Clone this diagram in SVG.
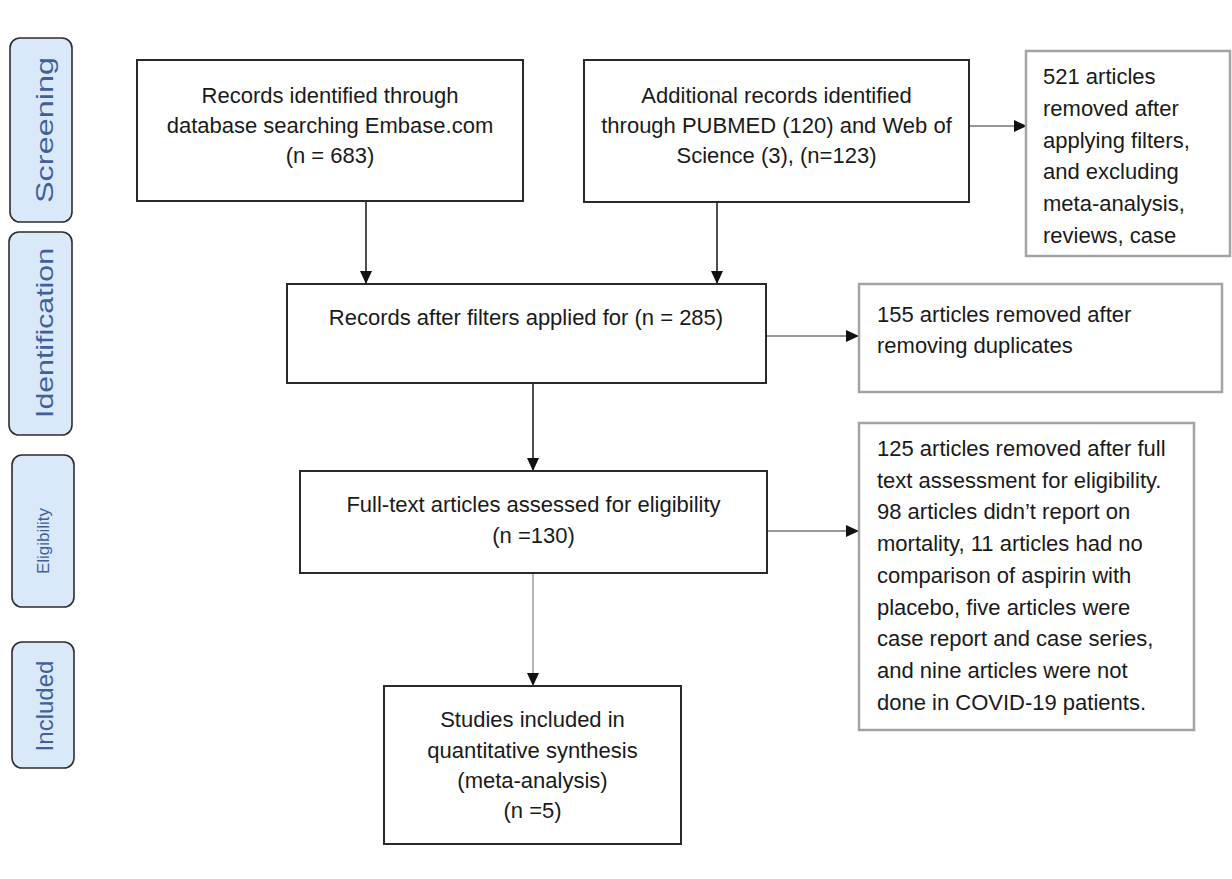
<svg xmlns="http://www.w3.org/2000/svg" width="1232" height="879" viewBox="0 0 1232 879">
<style>
  .txt { font-family: "Liberation Sans", Arial, sans-serif; font-size: 22px; fill: #1a1a1a; }
  .mid { text-anchor: middle; }
  .main { fill: #ffffff; stroke: #2a2a2a; stroke-width: 2; }
  .side { fill: #ffffff; stroke: #a3a3a3; stroke-width: 2.5; }
  .stage { fill: #dae9fa; stroke: #2d2d2d; stroke-width: 1.6; }
  .stxt { font-family: "Liberation Sans", Arial, sans-serif; font-size: 24px; fill: #40609a; text-anchor: middle; }
  .conn { fill: none; stroke: #222; stroke-width: 1.6; }
  .thin { fill: none; stroke: #333; stroke-width: 1.1; }
  .grey { fill: none; stroke: #777; stroke-width: 1.1; }
</style>
<defs>
  <marker id="ah" markerUnits="userSpaceOnUse" markerWidth="13" markerHeight="12" refX="12" refY="6" orient="auto">
    <path d="M0,0 L13,6 L0,12 z" fill="#111"/>
  </marker>
</defs>
<rect width="1232" height="879" fill="#ffffff"/>

<g id="stage-screening">
  <rect class="stage" x="10" y="38" width="62" height="184" rx="10"/>
  <text class="stxt" transform="translate(53,130) rotate(-90)" x="0" y="0" textLength="146" lengthAdjust="spacingAndGlyphs">Screening</text>
</g>
<g id="stage-identification">
  <rect class="stage" x="9" y="232" width="63" height="203" rx="10"/>
  <text class="stxt" transform="translate(53,333) rotate(-90)" x="0" y="0" textLength="170" lengthAdjust="spacingAndGlyphs">Identification</text>
</g>
<g id="stage-eligibility">
  <rect class="stage" x="12" y="455" width="62" height="152" rx="10"/>
  <text class="stxt" style="font-size:17px" transform="translate(49,541) rotate(-90)" x="0" y="0">Eligibility</text>
</g>
<g id="stage-included">
  <rect class="stage" x="12" y="642" width="62" height="126" rx="10"/>
  <text class="stxt" transform="translate(53,706) rotate(-90)" x="0" y="0">Included</text>
</g>

<g id="connectors">
  <line class="conn" x1="366" y1="201" x2="366" y2="283" marker-end="url(#ah)"/>
  <line class="conn" x1="717" y1="202" x2="717" y2="283" marker-end="url(#ah)"/>
  <line class="thin" x1="969" y1="126" x2="1026" y2="126" marker-end="url(#ah)"/>
  <line class="thin" x1="766" y1="336" x2="858" y2="336" marker-end="url(#ah)"/>
  <line class="conn" x1="533" y1="383" x2="533" y2="470" marker-end="url(#ah)"/>
  <line class="thin" x1="767" y1="531" x2="858" y2="531" marker-end="url(#ah)"/>
  <line class="grey" x1="533" y1="573" x2="533" y2="685" marker-end="url(#ah)"/>
</g>

<g id="records-embase">
  <rect class="main" x="137" y="60" width="386" height="141"/>
  <text class="txt mid" x="330" y="103">Records identified through</text>
  <text class="txt mid" x="330" y="133">database searching Embase.com</text>
  <text class="txt mid" x="330" y="163">(n = 683)</text>
</g>

<g id="records-additional">
  <rect class="main" x="584" y="60" width="385" height="142"/>
  <text class="txt mid" x="776.5" y="103">Additional records identified</text>
  <text class="txt mid" x="776.5" y="133">through PUBMED (120) and Web of</text>
  <text class="txt mid" x="776.5" y="163">Science (3), (n=123)</text>
</g>

<g id="removed-521">
  <rect class="side" x="1026" y="51" width="204" height="205"/>
  <text class="txt" x="1043" y="84">521 articles</text>
  <text class="txt" x="1043" y="116">removed after</text>
  <text class="txt" x="1043" y="148">applying filters,</text>
  <text class="txt" x="1043" y="179">and excluding</text>
  <text class="txt" x="1043" y="211">meta-analysis,</text>
  <text class="txt" x="1043" y="243">reviews, case</text>
</g>

<g id="records-filtered">
  <rect class="main" x="287" y="284" width="479" height="99"/>
  <text class="txt mid" x="526" y="325">Records after filters applied for (n = 285)</text>
</g>

<g id="removed-155">
  <rect class="side" x="859" y="284" width="363" height="108"/>
  <text class="txt" x="877" y="322">155 articles removed after</text>
  <text class="txt" x="877" y="353">removing duplicates</text>
</g>

<g id="fulltext">
  <rect class="main" x="300" y="471" width="467" height="102"/>
  <text class="txt mid" x="533.5" y="512">Full-text articles assessed for eligibility</text>
  <text class="txt mid" x="533.5" y="543">(n =130)</text>
</g>

<g id="removed-125">
  <rect class="side" x="859" y="423" width="335" height="307"/>
  <text class="txt" x="877" y="456">125 articles removed after full</text>
  <text class="txt" x="877" y="488">text assessment for eligibility.</text>
  <text class="txt" x="877" y="519">98 articles didn’t report on</text>
  <text class="txt" x="877" y="551">mortality, 11 articles had no</text>
  <text class="txt" x="877" y="583">comparison of aspirin with</text>
  <text class="txt" x="877" y="615">placebo, five articles were</text>
  <text class="txt" x="877" y="646">case report and case series,</text>
  <text class="txt" x="877" y="678">and nine articles were not</text>
  <text class="txt" x="877" y="710">done in COVID-19 patients.</text>
</g>

<g id="studies-included">
  <rect class="main" x="384" y="686" width="297" height="158"/>
  <text class="txt mid" x="532.5" y="727">Studies included in</text>
  <text class="txt mid" x="532.5" y="758">quantitative synthesis</text>
  <text class="txt mid" x="532.5" y="788">(meta-analysis)</text>
  <text class="txt mid" x="532.5" y="818">(n =5)</text>
</g>
</svg>
